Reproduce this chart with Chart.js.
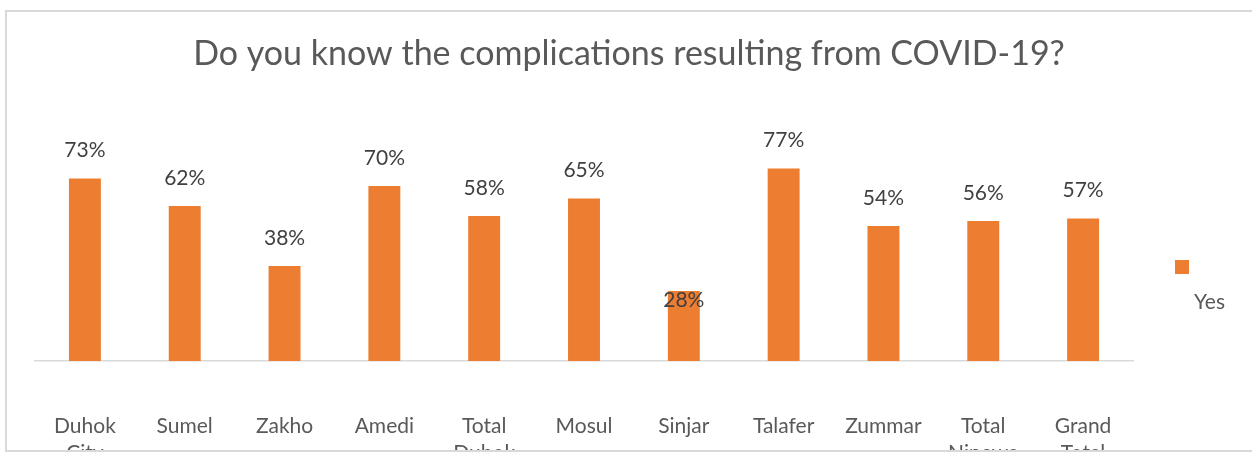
<!DOCTYPE html>
<html>
<head>
<meta charset="utf-8">
<script src="https://cdn.jsdelivr.net/npm/chart.js@4.4.1/dist/chart.umd.min.js"></script>
<style>
  html, body { margin: 0; padding: 0; background: #fff; }
  #wrap { width: 1252px; height: 456px; }
</style>
</head>
<body>
<div id="wrap"><canvas id="chart" width="1252" height="456"></canvas></div>
<script>
// datos
const categories = [
  ['Duhok', 'City'], 'Sumel', 'Zakho', 'Amedi', ['Total', 'Duhok'],
  'Mosul', 'Sinjar', 'Talafer', 'Zummar', ['Total', 'Ninewa'], ['Grand', 'Total']
];
const yesValues = [73, 62, 38, 70, 58, 65, 28, 77, 54, 56, 57];
const seriesName = 'Yes';
const chartTitle = 'Do you know the complications resulting from COVID-19?';

const orange = '#ED7D31';
const fontFam = 'Lato, "Open Sans", sans-serif';

// etiquetas de valor encima de las barras
const valueLabels = {
  id: 'valueLabels',
  afterDatasetsDraw(chart) {
    const ctx = chart.ctx;
    const meta = chart.getDatasetMeta(0);
    ctx.save();
    ctx.font = '21px ' + fontFam;
    ctx.fillStyle = '#404040';
    ctx.textAlign = 'center';
    ctx.textBaseline = 'middle';
    meta.data.forEach((bar, i) => {
      const v = chart.data.datasets[0].data[i];
      // la etiqueta de Sinjar queda encima de la barra en el original
      const y = v < 30 ? bar.y + 9 : bar.y - 28;
      ctx.fillText(v + '%', bar.x, y);
    });
    ctx.restore();
  }
};

// título, leyenda a la derecha y marco del gráfico
const frame = {
  id: 'frame',
  afterDraw(chart) {
    const ctx = chart.ctx;
    ctx.save();
    ctx.fillStyle = '#595959';
    ctx.font = '34px ' + fontFam;
    ctx.textAlign = 'center';
    ctx.textBaseline = 'alphabetic';
    ctx.fillText(chartTitle, 629, 65);

    ctx.fillStyle = orange;
    ctx.fillRect(1175, 260, 14, 14);
    ctx.fillStyle = '#595959';
    ctx.font = '21px ' + fontFam;
    ctx.textAlign = 'left';
    ctx.textBaseline = 'middle';
    ctx.fillText(seriesName, 1194, 302);
    // recorte inferior como en la captura
    ctx.fillStyle = '#fff';
    ctx.fillRect(0, 452, chart.width, 10);
    ctx.strokeStyle = '#D9D9D9';
    ctx.lineWidth = 2;
    ctx.strokeRect(6, 11, 1270, 440);
    ctx.restore();
  }
};

new Chart(document.getElementById('chart').getContext('2d'), {
  type: 'bar',
  data: {
    labels: categories,
    datasets: [{
      label: seriesName,
      data: yesValues,
      backgroundColor: orange,
      barPercentage: 0.32,
      categoryPercentage: 1.0
    }]
  },
  options: {
    responsive: false,
    animation: false,
    layout: { padding: { left: 35, right: 119, top: 111, bottom: 0 } },
    plugins: {
      legend: { display: false },
      tooltip: { enabled: false },
      title: { display: false }
    },
    scales: {
      y: { display: false, min: 0, max: 100 },
      x: {
        grid: { display: false },
        border: { display: true, color: '#D9D9D9', width: 1.5 },
        ticks: {
          color: '#595959',
          font: { family: fontFam, size: 21, lineHeight: 1.286 },
          padding: 44,
          maxRotation: 0,
          autoSkip: false
        },
        afterFit(scale) { scale.height = 95; }
      }
    }
  },
  plugins: [valueLabels, frame]
});
</script>
</body>
</html>
